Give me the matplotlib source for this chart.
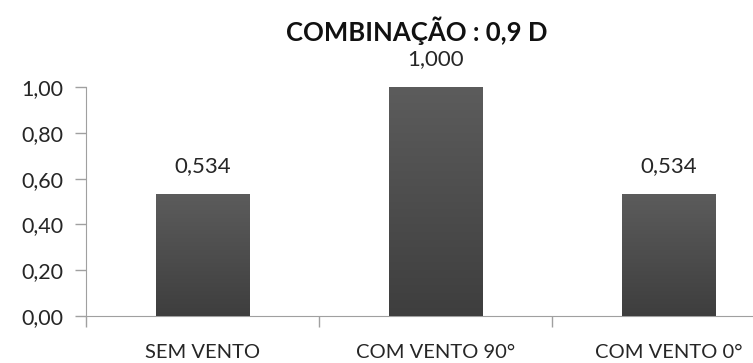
import matplotlib.pyplot as plt
import numpy as np

# chart data
categories = ["SEM VENTO", "COM VENTO 90°", "COM VENTO 0°"]
values = [0.534, 1.000, 0.534]
value_labels = ["0,534", "1,000", "0,534"]
yticks = [0.0, 0.2, 0.4, 0.6, 0.8, 1.0]
ytick_labels = ["0,00", "0,20", "0,40", "0,60", "0,80", "1,00"]
title = "COMBINAÇÃO : 0,9 D"

plt.rcParams['font.family'] = ['Lato', 'DejaVu Sans']

fig = plt.figure(figsize=(7.53, 3.63), dpi=100)
# axes runs off the right edge like the original
ax = fig.add_axes([86 / 753, 47 / 363, 699 / 753, 229 / 363])

x = np.arange(len(categories))
bars = ax.bar(x, values, width=0.40, color="#4d4d4d", zorder=2)

# vertical gradient inside each bar
grad = np.linspace(0, 1, 256).reshape(-1, 1)
cmap = plt.matplotlib.colors.LinearSegmentedColormap.from_list(
    "g", ["#3e3e3e", "#5c5c5c"])
for b in bars:
    x0, y0 = b.get_x(), b.get_y()
    w, h = b.get_width(), b.get_height()
    im = ax.imshow(grad, extent=[x0, x0 + w, y0, y0 + h], origin="lower",
                   cmap=cmap, aspect="auto", zorder=3)
    im.set_clip_path(b)

for xi, v, lab in zip(x, values, value_labels):
    ax.text(xi, v + 0.12, lab, ha="center", va="center", fontsize=16,
            color="#262626", clip_on=False)

ax.set_xlim(-0.5, len(categories) - 0.5)
ax.set_ylim(0, 1.0)

ax.set_yticks(yticks)
ax.set_yticklabels(ytick_labels, fontsize=15.5, color="#262626")
ax.set_xticks(x)
ax.set_xticklabels(categories, fontsize=14.5, color="#262626")
ax.tick_params(axis="x", length=0, pad=20)
ax.set_xticks(np.arange(len(categories) + 1) - 0.5, minor=True)
ax.tick_params(axis="x", which="minor", length=8, color="#a0a0a0", width=1)
ax.tick_params(axis="y", length=8, color="#a0a0a0", width=1, pad=8)

for s in ["top", "right"]:
    ax.spines[s].set_visible(False)
for s in ["left", "bottom"]:
    ax.spines[s].set_color("#a0a0a0")

fig.text(417 / 753, 1 - 31 / 363, title, ha="center", va="center",
         fontsize=18.5, fontweight="bold", color="#111111")

fig.savefig("out.png", dpi=100)
